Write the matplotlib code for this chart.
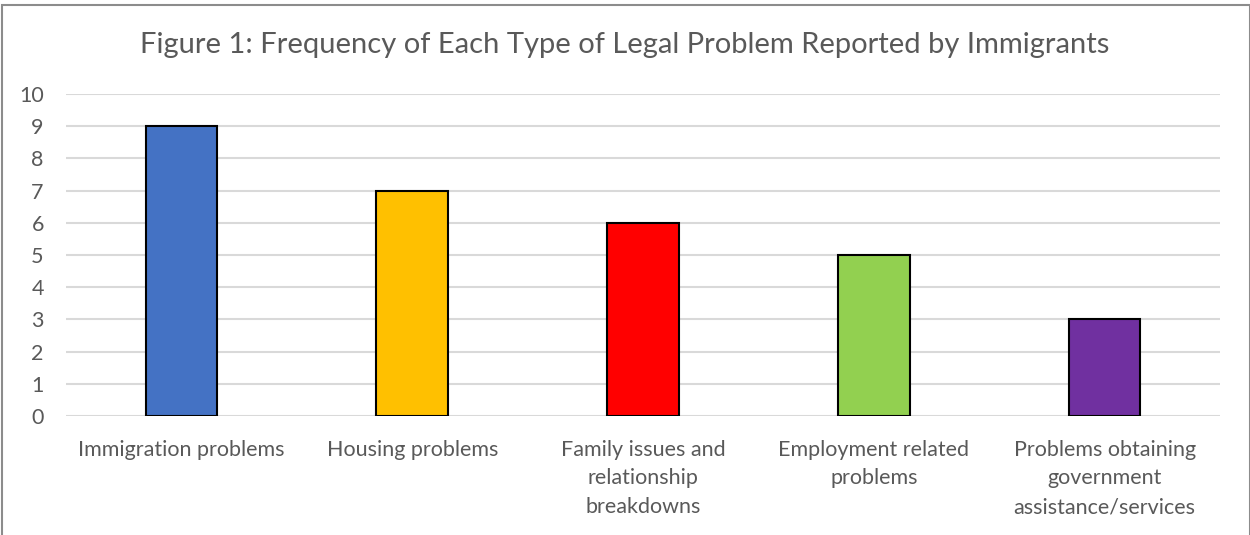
import matplotlib.pyplot as plt
from matplotlib.patches import Rectangle

categories = ["Immigration problems", "Housing problems",
              "Family issues and\nrelationship\nbreakdowns",
              "Employment related\nproblems",
              "Problems obtaining\ngovernment\nassistance/services"]
counts = [9, 7, 6, 5, 3]
colors = ["#4472C4", "#FFC000", "#FF0000", "#92D050", "#7030A0"]
yticks = list(range(0, 11))

plt.rcParams['font.family'] = ['Lato', 'DejaVu Sans']
txt = "#595959"

fig = plt.figure(figsize=(12.5, 5.35), dpi=100)
ax = fig.add_axes([0.0528, 0.2224, 0.9232, 0.6019])

x = range(len(categories))
ax.bar(x, counts, width=0.31, color=colors, edgecolor="black", linewidth=1.5, zorder=3)

ax.set_xlim(-0.5, len(categories) - 0.5)
ax.set_ylim(0, 10)
ax.set_yticks(yticks)
ax.set_xticks(list(x))
ax.set_xticklabels(categories, linespacing=1.55)
ax.tick_params(axis='y', length=0, pad=16, labelsize=15.5, labelcolor=txt)
ax.tick_params(axis='x', length=0, pad=17, labelsize=15.5, labelcolor=txt)
ax.grid(axis='y', color="#d9d9d9", linewidth=1.5, zorder=0)
for s in ax.spines.values():
    s.set_visible(False)

fig.text(0.5, 0.915, "Figure 1: Frequency of Each Type of Legal Problem Reported by Immigrants",
         ha='center', va='center', fontsize=21, color=txt)

fig.patches.append(Rectangle((0.0015, -0.01), 0.9985, 1.0, transform=fig.transFigure,
                             fill=False, edgecolor="#8c8c8c", linewidth=1.5))

fig.savefig("out.png", dpi=100)
